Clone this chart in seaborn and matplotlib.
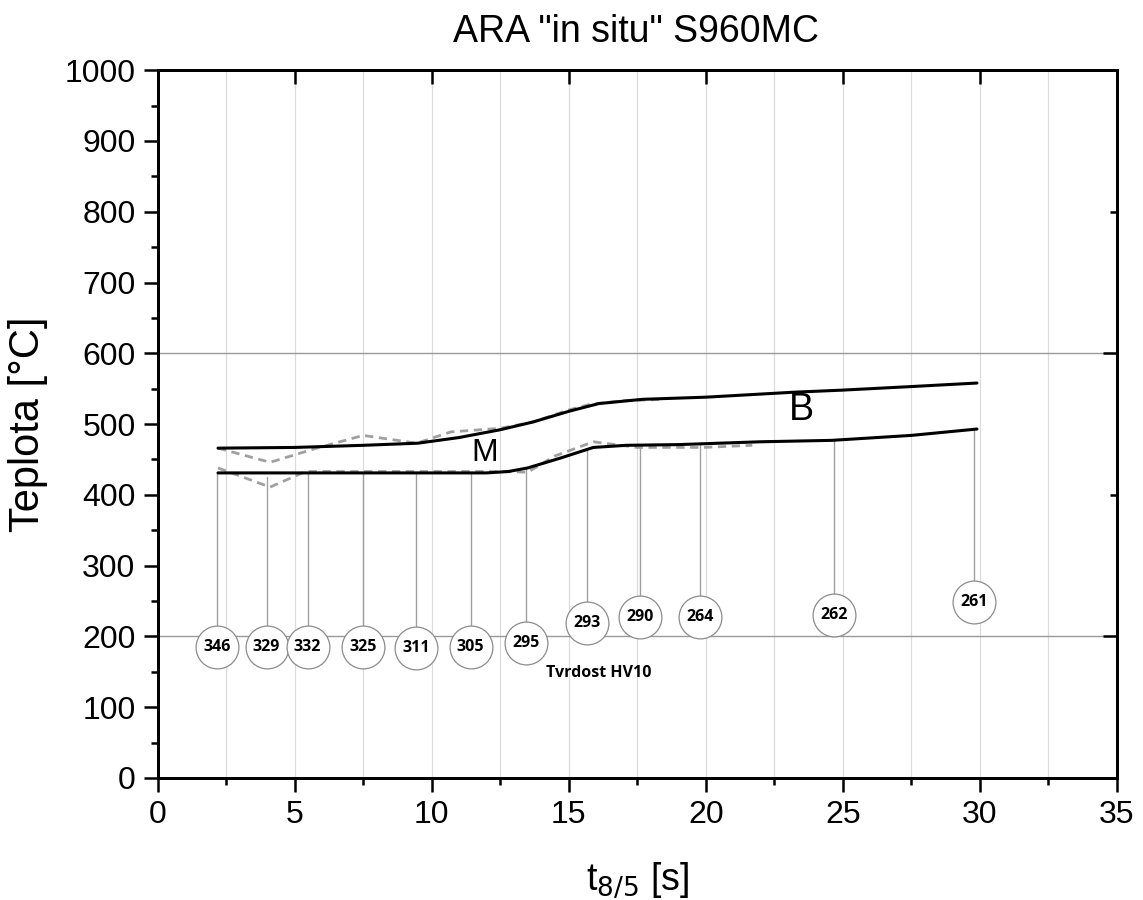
import numpy as np
import pandas as pd
import matplotlib
matplotlib.use("Agg")
import matplotlib.pyplot as plt
import seaborn as sns
from matplotlib.ticker import MultipleLocator, FixedLocator

# CCT (ARA) curves
upper_t = [2.2, 5.0, 7.5, 9.5, 11.0, 12.5, 13.7, 15.0, 16.1, 17.7, 20.0, 23.2, 25.0, 27.5, 29.9]
upper_T = [466, 467, 470, 473, 481, 492, 503, 518, 529, 535, 538, 545, 548, 553, 558]
lower_t = [2.2, 5.0, 8.0, 10.0, 12.0, 12.8, 13.5, 14.7, 15.9, 17.1, 19.0, 22.0, 24.6, 27.5, 29.9]
lower_T = [431, 431, 431, 431, 431, 433, 438, 452, 467, 470, 471, 475, 477, 484, 493]

# measured (dashed) curves
meas_up_t = [2.2, 4.1, 5.8, 7.5, 9.45, 10.7, 12.5, 13.7, 15.0, 15.8, 17.0, 18.5]
meas_up_T = [466, 446, 466, 484, 473, 489, 494, 503, 520, 528, 533, 535]
meas_lo_t = [2.2, 4.1, 5.4, 8.0, 11.0, 12.5, 13.5, 14.5, 15.9, 17.5, 19.9, 21.7]
meas_lo_T = [438, 411, 433, 433, 433, 433, 432, 455, 475, 467, 467, 470]

# hardness HV10
hv_t = [2.15, 3.97, 5.47, 7.5, 9.42, 11.42, 13.43, 15.66, 17.6, 19.78, 24.67, 29.8]
hv_val = [346, 329, 332, 325, 311, 305, 295, 293, 290, 264, 262, 261]
hv_y = [185, 185, 185, 185, 184, 185, 190, 219, 227, 228, 230, 248]
hv_top = [431, 425, 431, 431, 431, 431, 436, 462, 469, 471, 477, 492]

sns.set_style("white")
plt.rcParams['font.family'] = ['Liberation Sans', 'DejaVu Sans']
plt.rcParams['text.color'] = 'black'
plt.rcParams['axes.labelcolor'] = 'black'
plt.rcParams['xtick.color'] = 'black'
plt.rcParams['ytick.color'] = 'black'

fig = plt.figure(figsize=(11.43, 9), dpi=100)
ax = fig.add_axes([0.138, 0.1356, 0.839, 0.7864])

# grid
for xv in np.arange(2.5, 35, 2.5):
    ax.axvline(xv, color="#dcdcdc", lw=0.9, zorder=0)
for yv in [200, 600]:
    ax.axhline(yv, color="#999999", lw=1.0, zorder=0)

# drop lines to hardness circles
for t, top, yc in zip(hv_t, hv_top, hv_y):
    ax.plot([t, t], [yc, top], color="#a0a0a0", lw=1.0, zorder=1)

sns.lineplot(x=meas_up_t, y=meas_up_T, ax=ax, color="#a0a0a0", lw=2,
             linestyle=(0, (3, 2)), sort=False, estimator=None, zorder=2)
sns.lineplot(x=meas_lo_t, y=meas_lo_T, ax=ax, color="#a0a0a0", lw=2,
             linestyle=(0, (3, 2)), sort=False, estimator=None, zorder=2)
sns.lineplot(x=upper_t, y=upper_T, ax=ax, color="black", lw=2.2,
             sort=False, estimator=None, zorder=3)
sns.lineplot(x=lower_t, y=lower_T, ax=ax, color="black", lw=2.2,
             sort=False, estimator=None, zorder=3)

sns.scatterplot(x=hv_t, y=hv_y, ax=ax, s=950, facecolor="white",
                edgecolor="#8c8c8c", linewidth=0.9, zorder=4, legend=False)
for t, yc, v in zip(hv_t, hv_y, hv_val):
    ax.text(t, yc, str(v), ha="center", va="center", fontsize=11.5,
            fontweight="bold", family=["Open Sans", "DejaVu Sans"], zorder=5)

ax.text(11.93, 459, "M", ha="center", va="center", fontsize=23)
ax.text(23.5, 520, "B", ha="center", va="center", fontsize=27)
ax.text(16.1, 148, "Tvrdost HV10", ha="center", va="center", fontsize=11.5,
        fontweight="bold", family=["Open Sans", "DejaVu Sans"])

ax.set_xlim(0, 35)
ax.set_ylim(0, 1000)
ax.xaxis.set_major_locator(MultipleLocator(5))
ax.xaxis.set_minor_locator(MultipleLocator(2.5))
ax.yaxis.set_major_locator(MultipleLocator(100))
ax.yaxis.set_minor_locator(MultipleLocator(50))
ax.tick_params(axis="both", which="major", direction="out", length=10, width=1.8,
               labelsize=23, color="black", pad=6)
ax.tick_params(axis="both", which="minor", direction="out", length=5, width=1.8, color="black")
for sp in ax.spines.values():
    sp.set_visible(True)
    sp.set_linewidth(2)
    sp.set_color("black")

# top and right inner ticks
axt = ax.twiny()
axt.set_xlim(0, 35)
axt.xaxis.set_major_locator(FixedLocator([5, 10, 15, 20, 25, 30]))
axt.xaxis.set_minor_locator(FixedLocator([]))
axt.tick_params(axis="x", which="major", direction="in", length=10, width=1.8, labeltop=False)
axr = ax.twinx()
axr.set_ylim(0, 1000)
axr.yaxis.set_major_locator(FixedLocator([200, 600]))
axr.yaxis.set_minor_locator(FixedLocator([400, 800]))
axr.tick_params(axis="y", which="major", direction="in", length=10, width=1.8, labelright=False)
axr.tick_params(axis="y", which="minor", direction="in", length=5, width=1.8)
for a in (axt, axr):
    for sp in a.spines.values():
        sp.set_linewidth(2)
        sp.set_color("black")

ax.set_xlabel(r"t$_{8/5}$ [s]", fontsize=27, labelpad=22)
ax.set_ylabel("Teplota [°C]", fontsize=30, labelpad=12)
fig.text(0.556, 0.964, 'ARA "in situ" S960MC', ha="center", va="center", fontsize=27)

fig.savefig("out.png", dpi=100)
